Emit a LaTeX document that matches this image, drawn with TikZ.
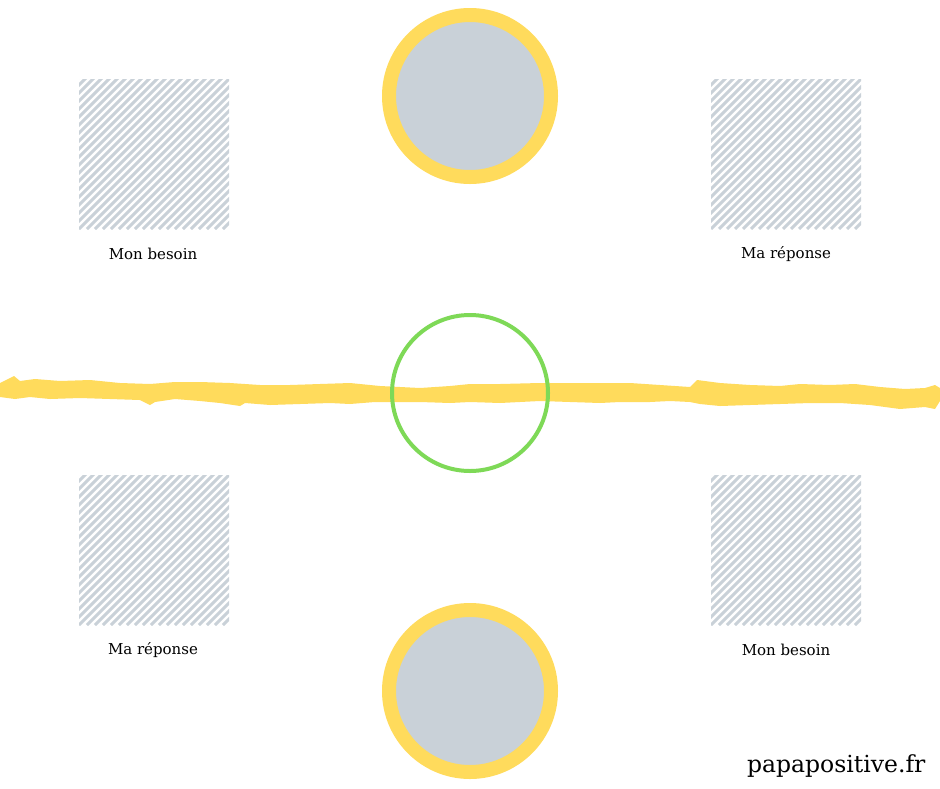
\documentclass[tikz,border=0pt]{standalone}
\usepackage{fontspec}
\setmainfont{DejaVu Serif}
\usetikzlibrary{positioning, calc}

\begin{document}
\begin{tikzpicture}[x=1pt, y=-1pt,
    hatchbox/.style={minimum size=150, inner sep=0pt, path picture={
        \foreach \k in {-20,...,20}
            \draw[draw=mygray, line width=3pt]
                ($(path picture bounding box.south west)+(\k*8,0)$) -- ++(170,-170);
    }},
    sun/.style={circle, inner sep=0pt, minimum size=162, fill=mygray, draw=myyellow, line width=14pt},
    ring/.style={circle, inner sep=0pt, minimum size=156, draw=mygreen, line width=4pt},
    lbl/.style={font=\fontsize{15}{18}\selectfont, text=black}]
        % Couleurs
        \definecolor{myyellow}{RGB}{255, 219, 92}
        \definecolor{mygray}{RGB}{201, 209, 216}
        \definecolor{mygreen}{RGB}{126, 217, 87}

        % Cadre de la page (940 x 788)
        \fill[white] (0,0) rectangle (940,788);
        \useasboundingbox (0,0) rectangle (940,788);

        % 1. Les quatre carres hachures
        \node[hatchbox] (boxTL) at (154,154) {};
        \node[hatchbox] (boxTR) at (786,154) {};
        \node[hatchbox] (boxBL) at (154,550) {};
        \node[hatchbox] (boxBR) at (786,550) {};

        % Legendes sous les carres
        \node[lbl] (lblTL) at (153,254) {Mon besoin};
        \node[lbl] (lblTR) at (786,254) {Ma réponse};
        \node[lbl] (lblBL) at (153,650) {Ma réponse};
        \node[lbl] (lblBR) at (786,650) {Mon besoin};

        % 2. Trait jaune au pinceau (bord haut puis bord bas)
        \fill[myyellow] (0,383) -- (8,379) -- (14,376) -- (20,381) -- (35,379) -- (60,381)
            -- (90,380) -- (120,383) -- (150,384) -- (175,382) -- (200,382) -- (230,383)
            -- (260,385) -- (290,385) -- (320,384) -- (350,383) -- (380,386) -- (420,388)
            -- (450,386) -- (470,384) -- (500,384) -- (540,383) -- (575,383) -- (600,383)
            -- (630,383) -- (660,385) -- (690,387) -- (697,380) -- (720,383) -- (750,385)
            -- (780,386) -- (800,384) -- (830,385) -- (855,384) -- (880,387) -- (905,389)
            -- (925,388) -- (935,385) -- (940,388)
            -- (940,401) -- (935,409) -- (925,407) -- (900,409) -- (870,405) -- (840,403)
            -- (810,403) -- (780,404) -- (750,405) -- (720,406) -- (700,404) -- (690,402)
            -- (670,401) -- (650,402) -- (620,402) -- (600,403) -- (570,402) -- (540,401)
            -- (500,403) -- (470,402) -- (450,403) -- (420,402) -- (400,402) -- (375,402)
            -- (350,404) -- (330,403) -- (300,404) -- (270,405) -- (245,403) -- (240,406)
            -- (220,403) -- (200,401) -- (175,399) -- (155,402) -- (150,405) -- (140,400)
            -- (110,399) -- (80,398) -- (50,399) -- (30,397) -- (15,399) -- (0,397) -- cycle;

        % 3. Les cercles
        \node[sun] (sunTop) at (470,96) {};
        \node[sun] (sunBot) at (470,691) {};
        \node[ring] (midCircle) at (470,393) {};

        % 4. Signature
        \node[font=\fontsize{23.5}{28}\selectfont, anchor=east] (brand) at (929,766) {papapositive.fr};

    \end{tikzpicture}
\end{document}
